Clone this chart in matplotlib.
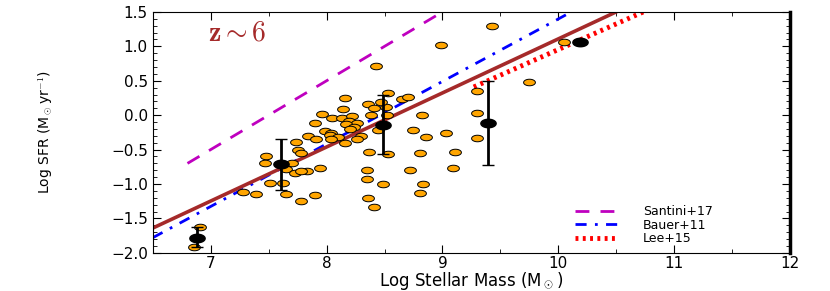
import matplotlib
matplotlib.use("Agg")
import matplotlib.pyplot as plt
import numpy as np
from matplotlib.path import Path
from matplotlib.ticker import MultipleLocator

plt.rcParams['mathtext.fontset'] = 'cm'

# individual galaxies (log M*, log SFR)
gal_mass = [8.99, 9.43, 8.43, 10.05, 9.75, 9.30, 9.30, 9.30, 8.16, 8.14,
            7.96, 7.90, 8.05, 8.13, 8.22, 8.19, 8.26, 8.17, 8.24, 8.20,
            7.99, 8.04, 8.03, 7.84, 7.91, 8.10, 8.04, 8.30, 8.26, 8.16,
            7.74, 8.36, 8.41, 8.51, 8.53, 8.47, 8.38, 8.44, 8.65, 8.70,
            8.82, 8.75, 8.86, 9.03, 8.52, 7.75, 7.78, 7.48, 7.47, 7.70,
            7.65, 7.73, 7.83, 7.94, 8.37, 8.53, 8.81, 9.11, 9.09, 8.72,
            8.35, 8.35, 8.49, 8.83, 7.51, 7.62, 7.65, 7.90, 7.78, 7.28,
            7.39, 8.36, 8.41, 8.81, 6.91, 6.86, 7.78]
gal_sfr = [1.02, 1.30, 0.72, 1.06, 0.48, 0.35, 0.03, -0.33, 0.25, 0.09,
           0.02, -0.11, -0.04, -0.04, -0.01, -0.08, -0.11, -0.13, -0.17, -0.20,
           -0.23, -0.26, -0.29, -0.30, -0.34, -0.31, -0.34, -0.30, -0.34, -0.40,
           -0.39, 0.16, 0.11, 0.12, 0.32, 0.19, 0.00, -0.21, 0.24, 0.27,
           0.00, -0.21, -0.31, -0.26, 0.00, -0.50, -0.55, -0.59, -0.69, -0.69,
           -0.78, -0.84, -0.81, -0.76, -0.53, -0.56, -0.55, -0.53, -0.76, -0.79,
           -0.79, -0.92, -1.00, -1.00, -0.98, -0.98, -1.14, -1.16, -1.24, -1.11,
           -1.14, -1.20, -1.33, -1.13, -1.63, -1.91, -0.81]

# binned medians
bin_mass = [6.88, 7.61, 8.49, 9.39, 10.19]
bin_sfr = [-1.78, -0.71, -0.14, -0.11, 1.06]
bin_err_lo = [0.13, 0.37, 0.42, 0.61, 0.0]
bin_err_hi = [0.15, 0.37, 0.44, 0.61, 0.0]

# relations
fit_x = [6.5, 10.6]
fit_y = [-1.64, 1.58]
santini_x = [6.8, 9.05]
santini_y = [-0.70, 1.55]
bauer_x = [6.5, 10.2]
bauer_y = [-1.78, 1.58]
lee_x = [9.27, 10.8]
lee_y = [0.41, 1.55]

t = np.linspace(0, 2 * np.pi, 40)
ellipse = Path(np.column_stack([1.8 * np.cos(t), np.sin(t)]), closed=True)

fig = plt.figure(figsize=(8.3, 2.91), dpi=100)
ax = fig.add_axes([0.184, 0.131, 0.768, 0.828])

ax.plot(santini_x, santini_y, color='m', ls=(0, (5, 4)), lw=2, label='Santini+17')
ax.plot(bauer_x, bauer_y, color='b', ls=(0, (4, 3, 1, 3)), lw=2, label='Bauer+11')
ax.plot(lee_x, lee_y, color='red', ls=(0, (0.6, 0.9)), lw=3.5, label='Lee+15')
ax.plot(fit_x, fit_y, color='#a52a2a', lw=2.6, zorder=2)

ax.plot(gal_mass, gal_sfr, ls='none', marker=ellipse, ms=8.5, mfc='orange',
        mec='black', mew=0.7, zorder=3)
ax.errorbar(bin_mass, bin_sfr, yerr=[bin_err_lo, bin_err_hi], fmt='none',
            ecolor='black', elinewidth=2, capsize=4, capthick=1, zorder=4)
ax.plot(bin_mass, bin_sfr, ls='none', marker=ellipse, ms=11, color='black', zorder=5)

ax.text(6.98, 1.08, r'$\mathbf{z\sim6}$', color='#a52a2a', fontsize=20)

ax.set_xlim(6.5, 12)
ax.set_ylim(-2.0, 1.5)
ax.xaxis.set_major_locator(MultipleLocator(1))
ax.xaxis.set_minor_locator(MultipleLocator(0.5))
ax.yaxis.set_major_locator(MultipleLocator(0.5))
ax.yaxis.set_minor_locator(MultipleLocator(0.1))
ax.tick_params(which='both', direction='in', top=True, right=True, labelsize=11)
ax.tick_params(axis='x', pad=2)
ax.tick_params(which='major', length=6)
ax.tick_params(which='minor', length=3)
ax.spines['right'].set_linewidth(2.5)

ax.set_xlabel(r'Log Stellar Mass (M$_\odot$)', fontsize=12, labelpad=0)
ax.set_ylabel(r'Log SFR (M$_\odot$yr$^{-1}$)', fontsize=10,
              family=['Liberation Sans Narrow', 'DejaVu Sans'], labelpad=40)

ax.legend(loc='lower left', frameon=False, fontsize=9, handlelength=3.4,
          handletextpad=2.0, labelspacing=0.05, borderaxespad=0.0,
          bbox_to_anchor=(0.655, 0.01))

fig.savefig('out.png', dpi=100)
